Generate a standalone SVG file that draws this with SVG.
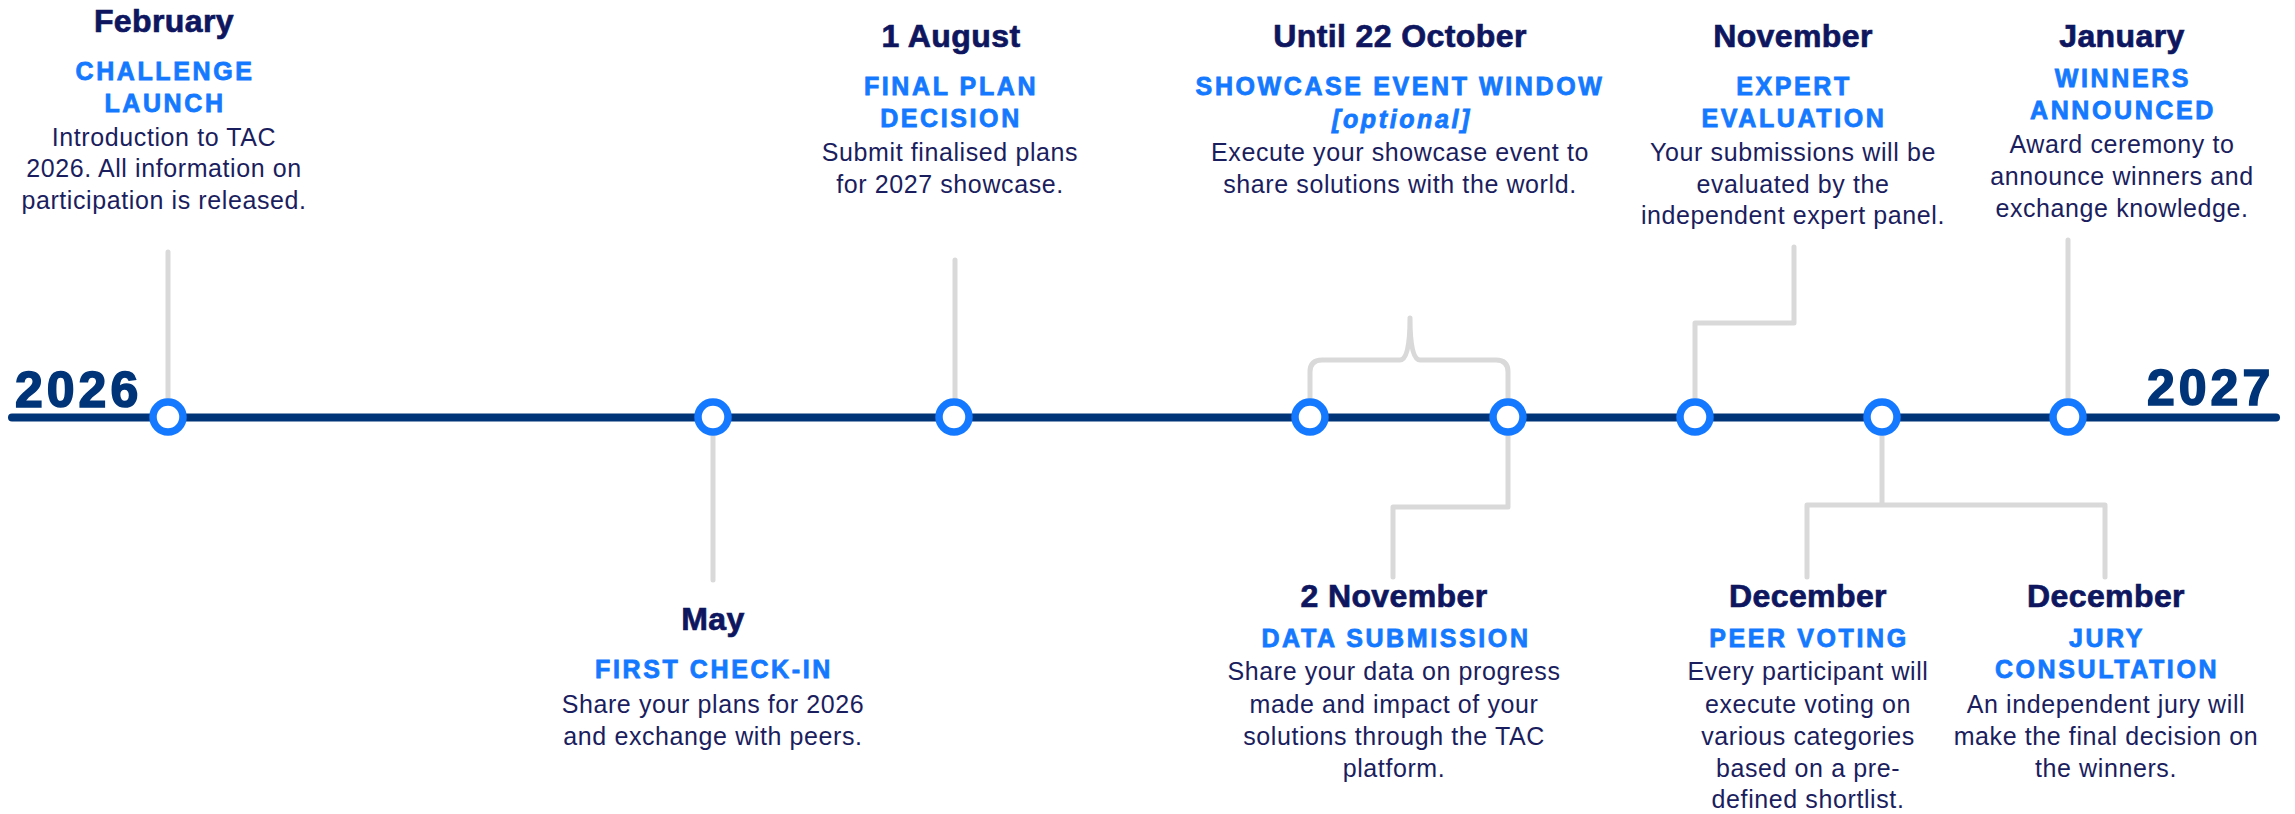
<svg xmlns="http://www.w3.org/2000/svg" width="2295" height="814" viewBox="0 0 2295 814">
<style>
text{font-family:"Liberation Sans",Arial,sans-serif;text-anchor:middle}
.date{font-size:32px;font-weight:bold;fill:#0E1660;stroke:#0E1660;stroke-width:.7px;letter-spacing:.4px}
.title{font-size:25px;font-weight:bold;fill:#1479FF;stroke:#1479FF;stroke-width:.8px;letter-spacing:2.6px}
.desc{font-size:25px;fill:#1B1E5E;letter-spacing:.6px}
.year{font-size:50px;font-weight:bold;fill:#003478;stroke:#003478;stroke-width:1.6px;letter-spacing:4px;text-anchor:start}
.conn{fill:none;stroke:#D9D9D9;stroke-width:5;stroke-linecap:round;stroke-linejoin:round}
.dot{fill:#fff;stroke:#1479FF;stroke-width:7.5}
</style>
<rect width="2295" height="814" fill="#fff"/>
<g id="connectors">
<path class="conn" d="M168,252 V410"/>
<path class="conn" d="M713,425 V580"/>
<path class="conn" d="M955,260 V410"/>
<path class="conn" d="M1310,405 V372 Q1310,360 1322,360 H1400 Q1410,360 1410,318 Q1410,360 1420,360 H1496 Q1508,360 1508,372 V405"/>
<path class="conn" d="M1508,425 V507 H1393 V577"/>
<path class="conn" d="M1695,410 V323 H1794 V247"/>
<path class="conn" d="M1882,425 V505 M1807,577 V505 H2105 V577"/>
<path class="conn" d="M2068,410 V240"/>
</g>
<g id="timeline">
<line x1="12" y1="417.5" x2="2276" y2="417.5" stroke="#003478" stroke-width="8" stroke-linecap="round"/>
<text class="year" x="15" y="407">2026</text>
<text class="year" x="2147" y="405">2027</text>
</g>
<g id="dots">
<circle class="dot" cx="168" cy="417" r="15"/>
<circle class="dot" cx="713" cy="417" r="15"/>
<circle class="dot" cx="954" cy="417" r="15"/>
<circle class="dot" cx="1310" cy="417" r="15"/>
<circle class="dot" cx="1508" cy="417" r="15"/>
<circle class="dot" cx="1695" cy="417" r="15"/>
<circle class="dot" cx="1882" cy="417" r="15"/>
<circle class="dot" cx="2068" cy="417" r="15"/>
</g>
<g id="node-february">
<text class="date" x="164" y="32">February</text>
<text class="title" x="165" y="80">CHALLENGE</text>
<text class="title" x="165" y="112">LAUNCH</text>
<text class="desc" x="164" y="146">Introduction to TAC</text>
<text class="desc" x="164" y="177">2026. All information on</text>
<text class="desc" x="164" y="209">participation is released.</text>
</g>
<g id="node-may">
<text class="date" x="713" y="630">May</text>
<text class="title" x="714" y="678">FIRST CHECK-IN</text>
<text class="desc" x="713" y="713">Share your plans for 2026</text>
<text class="desc" x="713" y="745">and exchange with peers.</text>
</g>
<g id="node-august">
<text class="date" x="951" y="47">1 August</text>
<text class="title" x="951" y="95">FINAL PLAN</text>
<text class="title" x="951" y="127">DECISION</text>
<text class="desc" x="950" y="161">Submit finalised plans</text>
<text class="desc" x="950" y="193">for 2027 showcase.</text>
</g>
<g id="node-october">
<text class="date" x="1400" y="47">Until 22 October</text>
<text class="title" x="1400" y="95">SHOWCASE EVENT WINDOW</text>
<text class="title" x="1402" y="128" font-style="italic">[optional]</text>
<text class="desc" x="1400" y="161">Execute your showcase event to</text>
<text class="desc" x="1400" y="193">share solutions with the world.</text>
</g>
<g id="node-2november">
<text class="date" x="1394" y="607">2 November</text>
<text class="title" x="1396" y="647">DATA SUBMISSION</text>
<text class="desc" x="1394" y="680">Share your data on progress</text>
<text class="desc" x="1394" y="713">made and impact of your</text>
<text class="desc" x="1394" y="745">solutions through the TAC</text>
<text class="desc" x="1394" y="777">platform.</text>
</g>
<g id="node-november">
<text class="date" x="1793" y="47">November</text>
<text class="title" x="1794" y="95">EXPERT</text>
<text class="title" x="1794" y="127">EVALUATION</text>
<text class="desc" x="1793" y="161">Your submissions will be</text>
<text class="desc" x="1793" y="193">evaluated by the</text>
<text class="desc" x="1793" y="224">independent expert panel.</text>
</g>
<g id="node-december-peer">
<text class="date" x="1808" y="607">December</text>
<text class="title" x="1809" y="647">PEER VOTING</text>
<text class="desc" x="1808" y="680">Every participant will</text>
<text class="desc" x="1808" y="713">execute voting on</text>
<text class="desc" x="1808" y="745">various categories</text>
<text class="desc" x="1808" y="777">based on a pre-</text>
<text class="desc" x="1808" y="808">defined shortlist.</text>
</g>
<g id="node-december-jury">
<text class="date" x="2106" y="607">December</text>
<text class="title" x="2107" y="647">JURY</text>
<text class="title" x="2107" y="678">CONSULTATION</text>
<text class="desc" x="2106" y="713">An independent jury will</text>
<text class="desc" x="2106" y="745">make the final decision on</text>
<text class="desc" x="2106" y="777">the winners.</text>
</g>
<g id="node-january">
<text class="date" x="2122" y="47">January</text>
<text class="title" x="2123" y="87">WINNERS</text>
<text class="title" x="2123" y="119">ANNOUNCED</text>
<text class="desc" x="2122" y="153">Award ceremony to</text>
<text class="desc" x="2122" y="185">announce winners and</text>
<text class="desc" x="2122" y="217">exchange knowledge.</text>
</g>
</svg>
